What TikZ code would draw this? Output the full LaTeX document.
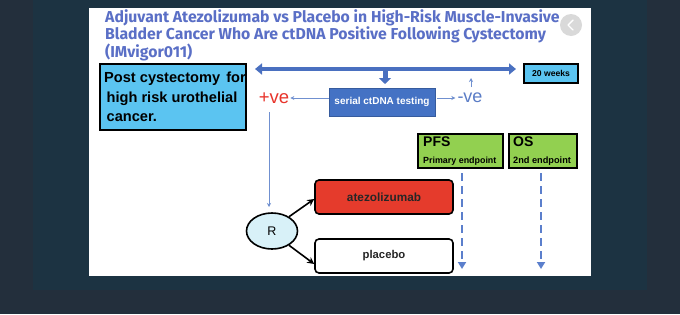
\documentclass[tikz,border=0pt]{standalone}
\usepackage{fontspec}
\setmainfont{Liberation Sans}
\newfontfamily\titlefont{Fira Sans}
\usetikzlibrary{arrows.meta,shapes.geometric,calc}
\definecolor{bgouter}{HTML}{232F3C}
\definecolor{bgpanel}{HTML}{1C3342}
\definecolor{titleblue}{HTML}{5A6FC6}
\definecolor{sky}{HTML}{5BC4F1}
\definecolor{barblue}{HTML}{4A70C0}
\definecolor{serialblue}{HTML}{4472C4}
\definecolor{thinblue}{HTML}{7090D0}
\definecolor{posred}{HTML}{E8332A}
\definecolor{negblue}{HTML}{5A7CC6}
\definecolor{endgreen}{HTML}{92D050}
\definecolor{armred}{HTML}{E53B2C}
\definecolor{rfill}{HTML}{D8F1F8}
\definecolor{dashblue}{HTML}{5B7FCC}
\tikzset{
  skybox/.style={draw=black, line width=1.6pt, fill=sky, inner sep=0pt},
  armbox/.style={draw=black, line width=1.6pt, rounded corners=4pt, minimum width=138pt, minimum height=34pt, text=black!85},
  endbox/.style={draw=black, line width=1.6pt, fill=endgreen, minimum height=34pt, inner sep=0pt},
  thinarrow/.style={draw=thinblue, line width=0.9pt, -{Stealth[length=4pt,width=4pt]}},
  blackarrow/.style={draw=black, line width=1.6pt, -{Stealth[length=7pt,width=7pt]}},
  dasharrow/.style={draw=dashblue, line width=2.4pt, dash pattern=on 8pt off 5pt, -{Stealth[length=7pt,width=8pt,inset=0pt]}},
}
\begin{document}
\begin{tikzpicture}[x=1pt,y=-1pt]
\useasboundingbox (0,0) rectangle (680,314);
\fill[bgouter] (0,0) rectangle (680,314);
\fill[bgpanel] (33,0) rectangle (647,290);
\fill[white] (89,8) rectangle (591,276);
% title
\node[anchor=north west, inner sep=0pt, align=left, text=titleblue,
  font=\titlefont\bfseries\fontsize{15.8}{17.5}\selectfont] (title) at (105,9)
  {Adjuvant Atezolizumab vs Placebo in High-Risk Muscle-Invasive\\
   Bladder Cancer Who Are ctDNA Positive Following Cystectomy\\
   (IMvigor011)};
% grey nav circle
\node[circle, fill=black!15, minimum size=22pt, inner sep=0pt] (nav) at (571,25) {};
\draw[white, line width=1.4pt, line cap=round, line join=round] ($(nav)+(2,-5)$) -- ($(nav)+(-3,0)$) -- ($(nav)+(2,5)$);
% left box
\node[skybox, minimum width=146pt, minimum height=66pt] (post) at (173,97) {};
\node[anchor=west, align=left, inner sep=0pt, font=\bfseries\fontsize{14.6}{19.5}\selectfont] (posttxt) at (104,97)
  {Post cystectomy\hspace{2pt} for\\\hspace{2.5pt}high risk urothelial\\\hspace{2.5pt}cancer.};
% timeline bar
\coordinate (barL) at (255,69);
\coordinate (barR) at (516,69);
\draw[barblue, line width=3.6pt, {Triangle[length=7pt,width=11pt]}-{Triangle[length=7pt,width=11pt]}] (barL) -- (barR);
% 20 weeks
\node[skybox, minimum width=54pt, minimum height=19pt, font=\bfseries\fontsize{8.6}{9}\selectfont] (wk) at (551,73.5) {20 weeks};
% serial box
\node[draw=serialblue!80!black, line width=0.8pt, fill=serialblue, minimum width=106pt, minimum height=28pt, inner sep=0pt, text=white, font=\bfseries\fontsize{10}{11}\selectfont] (serial) at (382,102) {serial ctDNA testing};
\coordinate (barmid) at (385,69);
\draw[barblue, line width=5pt, -{Triangle[length=6pt,width=12pt]}] (barmid) -- (385,84);
% +ve and -ve
\node[text=posred, inner sep=1pt, font=\fontsize{18.5}{20}\selectfont] (pos) at (274,98) {+ve};
\node[text=negblue, inner sep=1pt, font=\fontsize{18}{20}\selectfont] (neg) at (470,98) {-ve};
\draw[thinarrow] (serial.west |- pos.east) -- (pos.east);
\draw[thinarrow] (serial.east |- neg.west) ++(2,0) -- ([xshift=-1pt]neg.west);
\coordinate (negup) at (471,78);
\draw[thinarrow] (471,87) -- (negup);
% R
\node[ellipse, draw=black, line width=1.6pt, fill=rfill, minimum width=51pt, minimum height=36pt, inner sep=0pt, font=\fontsize{12.5}{14}\selectfont] (R) at (272,231) {R};
\draw[thinarrow] (269,112) -- (269,207);
% arms
\node[armbox, fill=armred, font=\bfseries\fontsize{11.8}{13}\selectfont] (atezo) at (384,197) {atezolizumab};
\node[armbox, fill=white, font=\bfseries\fontsize{11.3}{13}\selectfont] (plac) at (384,256) {placebo};
\draw[blackarrow] (R.40) -- (atezo.west |- 0,199) ;
\draw[blackarrow] (R.-40) -- (plac.west |- 0,264);
% endpoints
\node[endbox, minimum width=85pt] (pfs) at (460.5,151) {};
\node[anchor=north west, inner sep=0pt, font=\bfseries\fontsize{14}{15}\selectfont] at (423,137) {PFS};
\node[anchor=south west, inner sep=0pt, font=\bfseries\fontsize{8.9}{9}\selectfont] at (423,166) {Primary endpoint};
\node[endbox, minimum width=68pt] (os) at (543,151) {};
\node[anchor=north west, inner sep=0pt, font=\bfseries\fontsize{14}{15}\selectfont] at (513,137) {OS};
\node[anchor=south west, inner sep=0pt, font=\bfseries\fontsize{9.2}{9}\selectfont] at (513,166) {2nd endpoint};
\coordinate (pfsend) at (462,269);
\coordinate (osend) at (541,269);
\draw[dasharrow] (462,173) -- (pfsend);
\draw[dasharrow] (541,173) -- (osend);
\end{tikzpicture}
\end{document}
